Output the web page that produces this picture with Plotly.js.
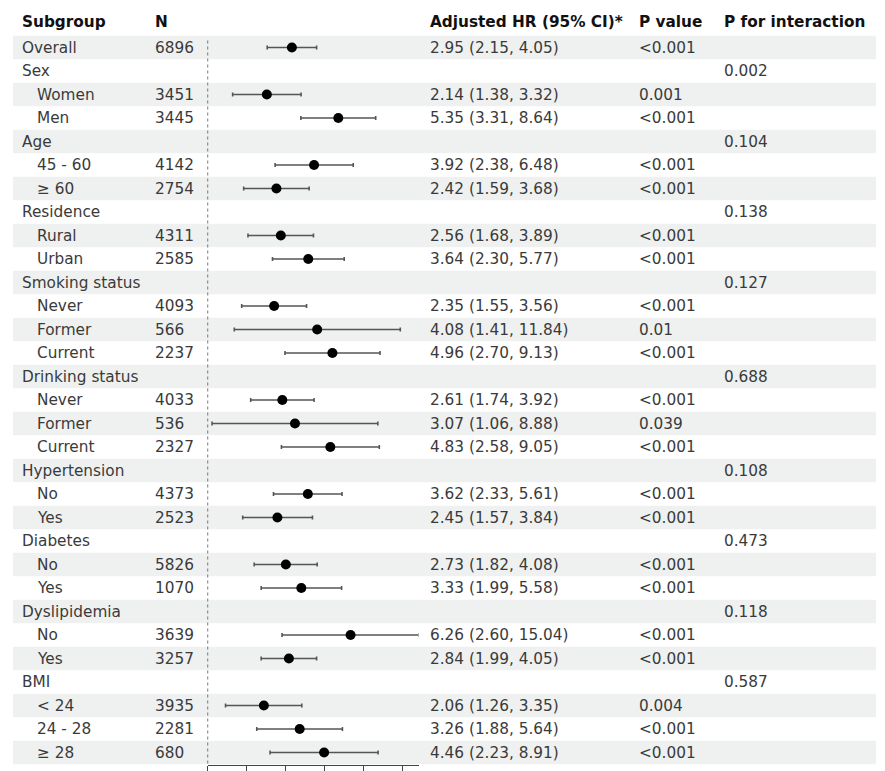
<!DOCTYPE html>
<html>
<head>
<meta charset="utf-8">
<script src="https://cdn.plot.ly/plotly-3.0.1.min.js"></script>
<style>html,body{margin:0;padding:0;background:#fff;}#chart{width:885px;height:771px;}</style>
</head>
<body>
<div id="chart"></div>
<script>
// ---- Data ----
var subgroup = ["Overall","Sex","Women","Men","Age","45 - 60","\u2265 60","Residence","Rural","Urban",
  "Smoking status","Never","Former","Current","Drinking status","Never","Former","Current",
  "Hypertension","No","Yes","Diabetes","No","Yes","Dyslipidemia","No","Yes","BMI","< 24","24 - 28","\u2265 28"];
var indented = [0,0,1,1,0,1,1,0,1,1,0,1,1,1,0,1,1,1,0,1,1,0,1,1,0,1,1,0,1,1,1];
var nTotal = [6896,null,3451,3445,null,4142,2754,null,4311,2585,null,4093,566,2237,null,4033,536,2327,
  null,4373,2523,null,5826,1070,null,3639,3257,null,3935,2281,680];
var hr = [2.95,null,2.14,5.35,null,3.92,2.42,null,2.56,3.64,null,2.35,4.08,4.96,null,2.61,3.07,4.83,
  null,3.62,2.45,null,2.73,3.33,null,6.26,2.84,null,2.06,3.26,4.46];
var lower = [2.15,null,1.38,3.31,null,2.38,1.59,null,1.68,2.30,null,1.55,1.41,2.70,null,1.74,1.06,2.58,
  null,2.33,1.57,null,1.82,1.99,null,2.60,1.99,null,1.26,1.88,2.23];
var upper = [4.05,null,3.32,8.64,null,6.48,3.68,null,3.89,5.77,null,3.56,11.84,9.13,null,3.92,8.88,9.05,
  null,5.61,3.84,null,4.08,5.58,null,15.04,4.05,null,3.35,5.64,8.91];
var pValue = ["<0.001","","0.001","<0.001","","<0.001","<0.001","","<0.001","<0.001","","<0.001","0.01","<0.001",
  "","<0.001","0.039","<0.001","","<0.001","<0.001","","<0.001","<0.001","","<0.001","<0.001","","0.004","<0.001","<0.001"];
var pInteraction = ["","0.002","","","0.104","","","0.138","","","0.127","","","","0.688","","","",
  "0.108","","","0.473","","","0.118","","","0.587","","",""];
var headers = ["Subgroup","N","Adjusted HR (95% CI)*","P value","P for interaction"];
var refValue = 1;
var axisTicksLn = [0,0.5,1,1.5,2,2.5];

// ---- Build ----
var W = 885, H = 771;
var rowH = 23.5, firstY = 47.5, axisY = 765;
var nRows = subgroup.length;
var yTop = 1 - firstY/rowH;
var yBot = 1 + (axisY - firstY)/rowH;

var textFont = {family:"DejaVu Sans", size:15.3, color:"#3a3a3a"};
var headFont = {family:"DejaVu Sans", size:15.3, color:"#111"};

var annotations = [];
var colX = [21, 154, 429, 638, 723];
headers.forEach(function(h,c){
  annotations.push({xref:'x', yref:'y', x:colX[c], y:(21.5-firstY)/rowH+1, text:'<b>'+h+'</b>',
    showarrow:false, xanchor:'left', yanchor:'middle', font:headFont, borderpad:0});
});
function addText(x, y, t){
  if(t===null || t===undefined || t==="") return;
  annotations.push({xref:'x', yref:'y', x:x, y:y, text:String(t), showarrow:false,
    xanchor:'left', yanchor:'middle', font:textFont, borderpad:0});
}
for(var k=0;k<nRows;k++){
  var y = k+1;
  addText(indented[k] ? 36 : 21, y, subgroup[k]);
  addText(154, y, nTotal[k]);
  if(hr[k]!==null) addText(429, y, hr[k].toFixed(2)+" ("+lower[k].toFixed(2)+", "+upper[k].toFixed(2)+")");
  addText(638, y, pValue[k]);
  addText(723, y, pInteraction[k]);
}

var shapes = [];
for(var k=0;k<nRows;k++){
  if(k%2===0){
    shapes.push({type:'rect', xref:'paper', yref:'y', x0:13/W, x1:876/W, y0:k+1-0.5, y1:k+1+0.5,
      fillcolor:'#eef1f0', line:{width:0}, layer:'below'});
  }
}
shapes.push({type:'line', xref:'x2', yref:'y', x0:refValue, x1:refValue, y0:0.7, y1:yBot,
  line:{color:'#333', width:1.3, dash:'3px,3px'}});

var px = [], py = [], ep = [], em = [];
for(var k=0;k<nRows;k++){
  if(hr[k]!==null){
    px.push(hr[k]); py.push(k+1); ep.push(upper[k]-hr[k]); em.push(hr[k]-lower[k]);
  }
}
var lnRange = (418.5-207.5)/78;
var trace = {
  type:'scatter', mode:'markers', x:px, y:py, xaxis:'x2', yaxis:'y',
  marker:{color:'#000', size:10},
  error_x:{type:'data', symmetric:false, array:ep, arrayminus:em, color:'#555', thickness:1.6, width:2},
  hoverinfo:'skip', showlegend:false
};
var dummy = {type:'scatter', mode:'markers', x:[0], y:[0], xaxis:'x', yaxis:'y', marker:{opacity:0}, hoverinfo:'skip', showlegend:false};

var layout = {
  width:W, height:H, margin:{l:0,r:0,t:0,b:0},
  paper_bgcolor:'#fff', plot_bgcolor:'rgba(0,0,0,0)',
  showlegend:false,
  xaxis:{range:[0,W], domain:[0,1], visible:false, fixedrange:true},
  xaxis2:{type:'log', domain:[207.5/W, 418.5/W], range:[0, lnRange/Math.LN10], anchor:'y',
    showgrid:false, zeroline:false, showline:true, linecolor:'#444', linewidth:1.2,
    ticks:'outside', ticklen:8, tickwidth:1.2, tickcolor:'#444',
    tickmode:'array', tickvals:axisTicksLn.map(function(v){return Math.exp(v);}), showticklabels:false},
  yaxis:{range:[yBot, yTop], domain:[(H-axisY)/H, 1], visible:false, fixedrange:true},
  shapes:shapes, annotations:annotations
};
Plotly.newPlot('chart', [dummy, trace], layout, {displayModeBar:false, staticPlot:true});
</script>
</body>
</html>
